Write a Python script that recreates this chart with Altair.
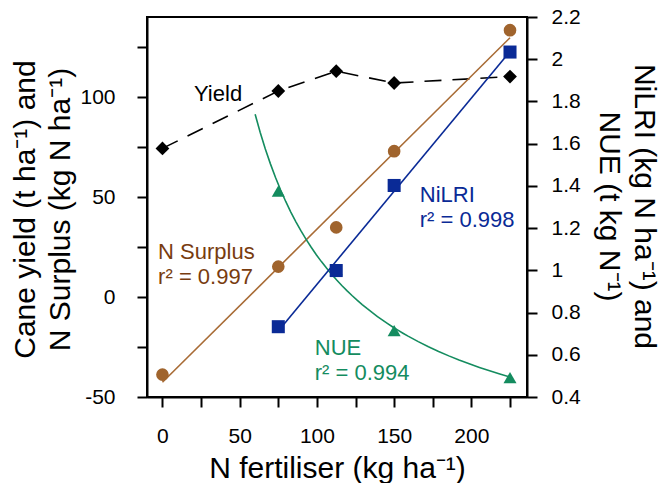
import altair as alt
import pandas as pd

# ---- data ----
n_rate = [0, 75, 112.5, 150, 225]
yield_t = [74.3, 103.0, 112.9, 107.0, 110.2]
n_surplus = [-38.8, 15.2, 34.8, 72.9, 133.4]

nilri_rate = [75, 112.5, 150, 225]
nilri = [0.733, 0.999, 1.402, 2.034]
nue = [1.375, 1.003, 0.714, 0.492]

x_ticks = [0, 25, 50, 75, 100, 125, 150, 175, 200, 225]
left_ticks = [-50, -25, 0, 25, 50, 75, 100, 125]
right_ticks = [0.4, 0.6, 0.8, 1.0, 1.2, 1.4, 1.6, 1.8, 2.0, 2.2]

# annotation labels (text, x, y of first line in data units)
yield_label = ["Yield"]
yield_label_x = [36]
yield_label_y = [101.6]

surplus_label = ["N Surplus\nr² = 0.997"]
surplus_label_x = [-2.8]
surplus_label_y = [22.6]

nilri_label = ["NiLRI\nr² = 0.998"]
nilri_label_x = [166.6]
nilri_label_y = [1.357]

nue_label = ["NUE\nr² = 0.994"]
nue_label_x = [98.6]
nue_label_y = [0.631]

# ---- styles ----
FONT = "Liberation Sans"
BROWN = "#A0642D"
BROWN_LINE = "#A86B35"
BROWN_TEXT = "#783C0F"
BLUE = "#0A2A96"
GREEN = "#148C5F"

df_left = pd.DataFrame({"N": n_rate, "Yield": yield_t, "Surplus": n_surplus})
df_right = pd.DataFrame({"N": nilri_rate, "NiLRI": nilri, "NUE": nue})


def lab_df(t, x, y):
    return pd.DataFrame({"label": t, "N": x, "ly": y})


x_scale = alt.Scale(domain=[-10, 236], nice=False, zero=False)
left_scale = alt.Scale(domain=[-50, 140], nice=False, zero=False)
right_scale = alt.Scale(domain=[0.4, 2.2], nice=False, zero=False)

x_axis = alt.Axis(
    values=x_ticks,
    labelExpr="datum.value % 50 === 0 ? datum.label : ''",
    title="N fertiliser (kg ha⁻¹)",
    titleX=190, titleY=71, titleBaseline="middle", titleAlign="center",
    labelPadding=18, grid=False,
)
left_axis = alt.Axis(
    values=left_ticks, orient="left",
    labelExpr="datum.value % 50 === 0 ? ('' + datum.value) : ''",
    title=["Cane yield (t ha⁻¹) and", "N Surplus (kg N ha⁻¹)"],
    titleAngle=270, titleX=-122, titleY=192, titleBaseline="middle",
    titleAlign="center", labelPadding=22, grid=False,
)
right_axis = alt.Axis(
    values=right_ticks, orient="right", format="~g",
    title=["NiLRI (kg N ha⁻¹) and", "NUE (t kg N⁻¹)"],
    titleAngle=90, titleX=116, titleY=189, titleBaseline="middle",
    titleAlign="center", labelPadding=14, grid=False,
)

X = lambda: alt.X("N:Q", scale=x_scale, axis=x_axis)

# ---- left-scale layers ----
yield_line = alt.Chart(df_left).mark_line(
    color="black", strokeDash=[17, 11], strokeWidth=1.6
).encode(x=X(), y=alt.Y("Yield:Q", scale=left_scale, axis=left_axis))
yield_pts = alt.Chart(df_left).mark_point(
    shape="diamond", filled=True, size=190, color="black", opacity=1
).encode(x=X(), y=alt.Y("Yield:Q", scale=left_scale, axis=left_axis))

surplus_fit = alt.Chart(df_left).transform_regression(
    "N", "Surplus"
).mark_line(color=BROWN_LINE, strokeWidth=1.6).encode(
    x=X(), y=alt.Y("Surplus:Q", scale=left_scale, axis=left_axis)
)
surplus_pts = alt.Chart(df_left).mark_point(
    shape="circle", filled=True, size=160, color=BROWN, opacity=1
).encode(x=X(), y=alt.Y("Surplus:Q", scale=left_scale, axis=left_axis))

yield_txt = alt.Chart(lab_df(yield_label, yield_label_x, yield_label_y)).mark_text(
    font=FONT, fontSize=22, color="black", align="center", baseline="middle"
).encode(x=X(), y=alt.Y("ly:Q", scale=left_scale, axis=left_axis), text="label:N")

surplus_txt = alt.Chart(lab_df(surplus_label, surplus_label_x, surplus_label_y)).mark_text(
    font=FONT, fontSize=22, color=BROWN_TEXT, align="left", baseline="middle",
    lineBreak="\n", lineHeight=25
).encode(x=X(), y=alt.Y("ly:Q", scale=left_scale, axis=left_axis), text="label:N")

left = alt.layer(yield_line, surplus_fit, yield_pts, surplus_pts, yield_txt, surplus_txt)

# ---- right-scale layers ----
nilri_fit = alt.Chart(df_right).transform_regression(
    "N", "NiLRI"
).mark_line(color=BLUE, strokeWidth=1.6).encode(
    x=X(), y=alt.Y("NiLRI:Q", scale=right_scale, axis=right_axis)
)
nilri_pts = alt.Chart(df_right).mark_point(
    shape="square", filled=True, size=170, color=BLUE, opacity=1
).encode(x=X(), y=alt.Y("NiLRI:Q", scale=right_scale, axis=right_axis))

nue_fit = alt.Chart(df_right).transform_regression(
    "N", "NUE", method="pow", extent=[60, 225]
).mark_line(color=GREEN, strokeWidth=1.6).encode(
    x=X(), y=alt.Y("NUE:Q", scale=right_scale, axis=right_axis)
)
nue_pts = alt.Chart(df_right).mark_point(
    shape="triangle-up", filled=True, size=170, color=GREEN, opacity=1
).encode(x=X(), y=alt.Y("NUE:Q", scale=right_scale, axis=right_axis))

nilri_txt = alt.Chart(lab_df(nilri_label, nilri_label_x, nilri_label_y)).mark_text(
    font=FONT, fontSize=22, color=BLUE, align="left", baseline="middle",
    lineBreak="\n", lineHeight=25
).encode(x=X(), y=alt.Y("ly:Q", scale=right_scale, axis=right_axis), text="label:N")

nue_txt = alt.Chart(lab_df(nue_label, nue_label_x, nue_label_y)).mark_text(
    font=FONT, fontSize=22, color=GREEN, align="left", baseline="middle",
    lineBreak="\n", lineHeight=25
).encode(x=X(), y=alt.Y("ly:Q", scale=right_scale, axis=right_axis), text="label:N")

right = alt.layer(nue_fit, nilri_fit, nue_pts, nilri_pts, nilri_txt, nue_txt)

chart = alt.layer(left, right).resolve_scale(y="independent").properties(
    width=380, height=380,
    autosize=alt.AutoSizeParams(type="none"),
    padding={"left": 147, "top": 17, "right": 135, "bottom": 86},
    background="white",
).configure_view(
    stroke="black", strokeWidth=2
).configure_axis(
    domainColor="black", domainWidth=2, tickColor="black", tickWidth=2,
    tickSize=10, labelFont=FONT, labelFontSize=21, labelColor="black",
    titleFont=FONT, titleFontSize=30, titleFontWeight="normal",
    titleColor="black", titleLineHeight=35,
)

chart.save("out.html", embed_options={"renderer": "svg", "actions": False})
